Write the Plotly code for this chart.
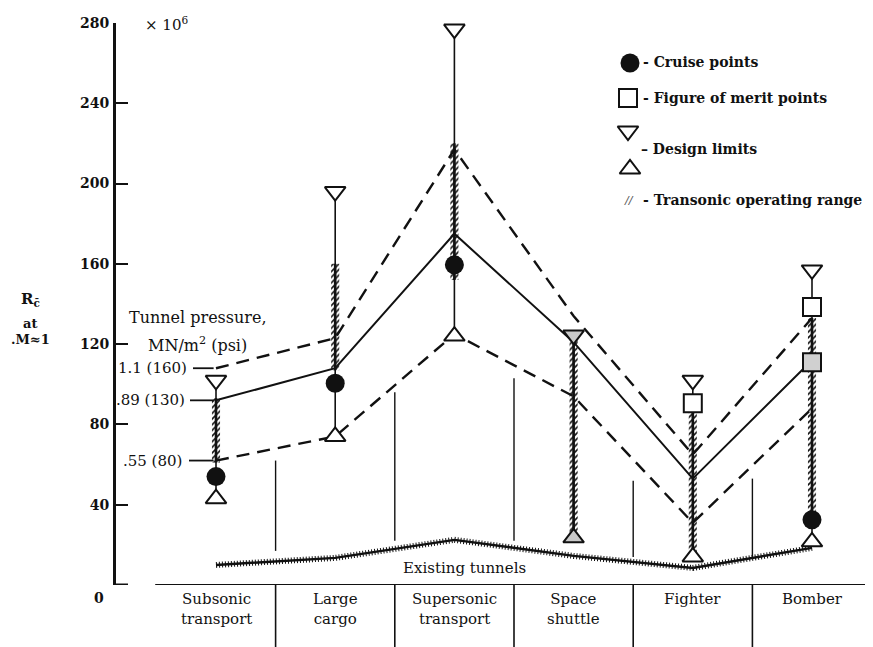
import plotly.graph_objects as go

# ---------------- data ----------------
categories = ["Subsonic<br>transport", "Large<br>cargo", "Supersonic<br>transport",
              "Space<br>shuttle", "Fighter", "Bomber"]
design_upper = [102, 196, 277, 124.5, 102, 157]
design_lower = [43, 74, 124, 23.5, 14, 21.5]
cruise_points = [54, 100.5, 159.5, None, None, 32.5]
merit_points = [None, None, None, None, 90.5, 138.5]
merit_hatched = [None, None, None, None, None, 111]
range_low = [61, 107, 152, 23.5, 14, 32.5]
range_high = [93, 160, 220, 124.5, 88, 133]
press_high = [108, 123, 217, 134, 65, 133]   # 1.1 MN/m2 (160 psi)
press_mid = [92, 108, 175, 121, 53, 112]     # .89 MN/m2 (130 psi)
press_low = [62, 74, 125, 94, 31, 88]        # .55 MN/m2 (80 psi)
existing_tunnels = [10, 13.5, 22.5, 14.5, 8.5, 18.5]
pressure_labels = ["1.1 (160)", ".89 (130)", ".55 (80)"]
y_ticks = [40, 80, 120, 160, 200, 240, 280]

# ---------------- geometry helpers (layout only) ----------------
PAGE_W, PAGE_H = 873, 647
OFF = 8                       # default body margin of the html page
W, H = PAGE_W - OFF, PAGE_H - OFF
PL, PR, PT, PB = 116, 872, 23, 585   # plot area in page pixels
ML, MT = PL - OFF, PT - OFF
MR = W - (PR - OFF)
MB = H - (PB - OFF)
X0, DX = 216.0, 119.2          # page pixel of first category, pixels per category
XR = [(PL - X0) / DX, (PR - X0) / DX]
YR = [0, 280]
PY = (PB - PT) / (YR[1] - YR[0])


def px_x(px):
    return (px - X0) / DX


def px_y(py):
    return (PB - py) / PY


def paper_x(px):
    return (px - PL) / (PR - PL)


def paper_y(py):
    return (PB - py) / (PB - PT)


xs = list(range(len(categories)))
SERIF = "DejaVu Serif"
BLACK = "#111111"

fig = go.Figure()

# transonic operating range (hatched bars)
fig.add_trace(go.Bar(
    x=xs, base=range_low, y=[h - l for h, l in zip(range_high, range_low)],
    width=0.068,
    marker=dict(color="white", line=dict(width=0),
                pattern=dict(shape="/", fgcolor=BLACK, bgcolor="white",
                             size=4, solidity=0.4, fillmode="replace")),
    showlegend=False, hoverinfo="skip"))

# design-limit connecting lines
lx, ly = [], []
for i in xs:
    lx += [i, i, None]
    ly += [design_lower[i], design_upper[i], None]
fig.add_trace(go.Scatter(x=lx, y=ly, mode="lines",
                         line=dict(color=BLACK, width=1.6),
                         showlegend=False, hoverinfo="skip"))

# thick core of the operating range
rx, ry = [], []
for i in xs:
    rx += [i, i, None]
    ry += [range_low[i], range_high[i], None]
fig.add_trace(go.Scatter(x=rx, y=ry, mode="lines",
                         line=dict(color=BLACK, width=2.6),
                         showlegend=False, hoverinfo="skip"))

# tunnel pressure lines
fig.add_trace(go.Scatter(x=xs, y=press_high, mode="lines",
                         line=dict(color=BLACK, width=2.4, dash="13px,8px"),
                         showlegend=False, hoverinfo="skip"))
fig.add_trace(go.Scatter(x=xs, y=press_mid, mode="lines",
                         line=dict(color=BLACK, width=2),
                         showlegend=False, hoverinfo="skip"))
fig.add_trace(go.Scatter(x=xs, y=press_low, mode="lines",
                         line=dict(color=BLACK, width=2.4, dash="13px,8px"),
                         showlegend=False, hoverinfo="skip"))

# existing tunnels (hatched line)
fig.add_trace(go.Scatter(x=xs, y=existing_tunnels, mode="lines",
                         line=dict(color=BLACK, width=6, dash="1px,2px"),
                         showlegend=False, hoverinfo="skip"))
fig.add_trace(go.Scatter(x=xs, y=existing_tunnels, mode="lines",
                         line=dict(color=BLACK, width=2.4),
                         showlegend=False, hoverinfo="skip"))

# design limits (triangles)
tri_fill = ["#c9c9c9" if c.startswith("Space") else "white" for c in categories]
fig.add_trace(go.Scatter(x=xs, y=design_upper, mode="markers", cliponaxis=False,
                         marker=dict(symbol="triangle-down", size=18, color=tri_fill,
                                     line=dict(color=BLACK, width=2)),
                         showlegend=False, hoverinfo="skip"))
fig.add_trace(go.Scatter(x=xs, y=design_lower, mode="markers", cliponaxis=False,
                         marker=dict(symbol="triangle-up", size=18, color=tri_fill,
                                     line=dict(color=BLACK, width=2)),
                         showlegend=False, hoverinfo="skip"))

# figure of merit points
fig.add_trace(go.Scatter(x=xs, y=merit_points, mode="markers",
                         marker=dict(symbol="square", size=18, color="white",
                                     line=dict(color=BLACK, width=2)),
                         showlegend=False, hoverinfo="skip"))
fig.add_trace(go.Scatter(x=xs, y=merit_hatched, mode="markers",
                         marker=dict(symbol="square", size=18, color="#d0d0d0",
                                     line=dict(color=BLACK, width=2)),
                         showlegend=False, hoverinfo="skip"))

# cruise points
fig.add_trace(go.Scatter(x=xs, y=cruise_points, mode="markers",
                         marker=dict(symbol="circle", size=19, color=BLACK,
                                     line=dict(width=0)),
                         showlegend=False, hoverinfo="skip"))

# ---------------- legend (drawn) ----------------
fig.add_trace(go.Scatter(x=[px_x(630)], y=[px_y(63)], mode="markers", cliponaxis=False,
                         marker=dict(symbol="circle", size=19, color=BLACK),
                         showlegend=False, hoverinfo="skip"))
fig.add_trace(go.Scatter(x=[px_x(628)], y=[px_y(98)], mode="markers", cliponaxis=False,
                         marker=dict(symbol="square", size=18, color="white",
                                     line=dict(color=BLACK, width=2)),
                         showlegend=False, hoverinfo="skip"))
fig.add_trace(go.Scatter(x=[px_x(628)], y=[px_y(131)], mode="markers", cliponaxis=False,
                         marker=dict(symbol="triangle-down", size=18, color="white",
                                     line=dict(color=BLACK, width=2)),
                         showlegend=False, hoverinfo="skip"))
fig.add_trace(go.Scatter(x=[px_x(630)], y=[px_y(169)], mode="markers", cliponaxis=False,
                         marker=dict(symbol="triangle-up", size=18, color="white",
                                     line=dict(color=BLACK, width=2)),
                         showlegend=False, hoverinfo="skip"))

ann = []
bold = dict(family=SERIF, size=14, color=BLACK, weight="bold")
bold13 = dict(family=SERIF, size=13, color=BLACK, weight="bold")


def add_text(px, py, text, font, anchor="left"):
    ann.append(dict(x=paper_x(px), y=paper_y(py), xref="paper", yref="paper", text=text,
                    showarrow=False, xanchor=anchor, yanchor="middle", font=font))


add_text(641, 62, "- Cruise points", bold)
add_text(641, 98, "- Figure of merit points", bold)
add_text(639, 149, "\u2013 Design limits", bold)
add_text(622, 200, "<i>//</i>", dict(family="DejaVu Sans", size=11, color="#555555"))
add_text(641, 200, "- Transonic operating range", bold)

# y-axis title
add_text(30, 299, "R<sub>c\u0304</sub>", dict(family=SERIF, size=15, color=BLACK, weight="bold"), "center")
add_text(30, 323, "at", bold13, "center")
add_text(30, 339, ".M\u22481", bold13, "center")

# x 10^6
add_text(143, 24, "\u00d7 10<sup>6</sup>", dict(family=SERIF, size=15, color=BLACK))

# tunnel pressure labels
add_text(198, 317, "Tunnel pressure,", dict(family=SERIF, size=16, color=BLACK), "center")
add_text(197, 344, "MN/m<sup>2</sup> (psi)", dict(family=SERIF, size=16, color=BLACK), "center")
for lab, arr, end in zip(pressure_labels, [press_high, press_mid, press_low], [189, 187, 184]):
    ann.append(dict(x=px_x(end), y=arr[0], xref="x", yref="y", text=lab,
                    showarrow=False, xanchor="right", yanchor="middle",
                    font=dict(family=SERIF, size=15, color=BLACK)))

# existing tunnels label
add_text(464, 568, "Existing tunnels", dict(family=SERIF, size=15, color=BLACK), "center")

# category labels
for i, c in enumerate(categories):
    ann.append(dict(x=i, y=0, xref="x", yref="y", yshift=-3, text=c,
                    showarrow=False, xanchor="center", yanchor="top",
                    font=dict(family=SERIF, size=15, color=BLACK)))

# "0" label
ann.append(dict(x=0, y=0, xref="paper", yref="paper", xshift=-10, yshift=-13, text="0",
                showarrow=False, xanchor="right", yanchor="middle", font=bold))

# ---------------- shapes ----------------
shapes = []
# category table baseline
shapes.append(dict(type="line", xref="x", yref="y", x0=-0.51, x1=5.6, y0=0, y1=0,
                   line=dict(color=BLACK, width=2)))
# table dividers
for i in range(len(categories) - 1):
    shapes.append(dict(type="line", xref="x", yref="paper", x0=i + 0.5, x1=i + 0.5,
                       y0=0, y1=-MB / (H - MT - MB), line=dict(color=BLACK, width=1.6)))
# short separators above existing tunnels
seps = [(0.5, 17, 62), (1.5, 22, 96), (2.5, 22, 103), (3.5, 14, 52), (4.5, 14, 53)]
for xv, y0, y1 in seps:
    shapes.append(dict(type="line", xref="x", yref="y", x0=xv, x1=xv, y0=y0, y1=y1,
                       line=dict(color=BLACK, width=1.4)))
# pressure label leaders
for arr, x0px in zip([press_high, press_mid, press_low], [193, 190, 189]):
    shapes.append(dict(type="line", xref="x", yref="y", x0=px_x(x0px), x1=-0.02,
                       y0=arr[0], y1=arr[0], line=dict(color=BLACK, width=1.8)))
# foot of the y axis
shapes.append(dict(type="line", xref="paper", yref="y", x0=-0.004, x1=12 / (W - ML - MR),
                   y0=0, y1=0, line=dict(color=BLACK, width=3)))

fig.update_layout(
    width=W, height=H,
    margin=dict(l=ML, r=MR, t=MT, b=MB),
    paper_bgcolor="white", plot_bgcolor="white",
    showlegend=False,
    annotations=ann, shapes=shapes,
    xaxis=dict(range=XR, showgrid=False, zeroline=False, showticklabels=False,
               ticks="", showline=False, fixedrange=True),
    yaxis=dict(range=YR, showgrid=False, zeroline=False, showline=True,
               linecolor=BLACK, linewidth=3, ticks="inside", ticklen=12,
               tickwidth=2, tickcolor=BLACK, tickvals=y_ticks,
               ticktext=[str(v) for v in y_ticks], ticklabelstandoff=1,
               tickfont=dict(family=SERIF, size=14, color=BLACK, weight="bold"),
               fixedrange=True),
)

fig.write_html("out.html")
